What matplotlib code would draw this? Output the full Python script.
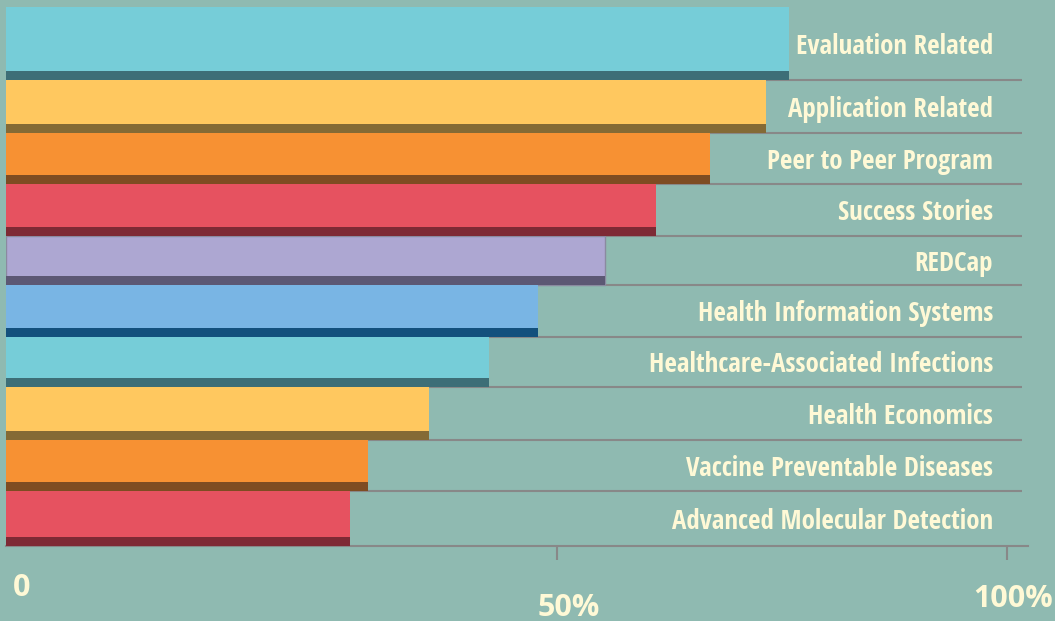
import matplotlib
matplotlib.use("Agg")
import matplotlib.pyplot as plt
from matplotlib import font_manager

categories = ["Evaluation Related", "Application Related", "Peer to Peer Program",
              "Success Stories", "REDCap", "Health Information Systems",
              "Healthcare-Associated Infections", "Health Economics",
              "Vaccine Preventable Diseases", "Advanced Molecular Detection"]
values = [78.2, 75.9, 70.3, 64.9, 59.8, 53.1, 48.3, 42.3, 36.2, 34.4]
tick_positions = [0, 55, 100]
tick_labels = ["0", "50%", "100%"]

main_colors = ["#76CDD8", "#FFC85F", "#F79133", "#E65260", "#ADA7D2",
               "#79B5E4", "#76CDD8", "#FFC85F", "#F79133", "#E65260"]
dark_colors = ["#3D6E77", "#846A35", "#7E4C22", "#7E2A35", "#5C5874",
               "#13507D", "#3D6E77", "#846A35", "#7E4C22", "#7E2A35"]
bg = "#8FBAB1"
cream = "#FFF9D6"
grid_c = "#888888"

avail = {f.name for f in font_manager.fontManager.ttflist}
label_fonts = [f for f in ["Open Sans Condensed", "Asap Condensed", "Barlow Semi Condensed"]
               if f in avail] + ["Roboto", "DejaVu Sans"]

W, H = 1055, 621
fig = plt.figure(figsize=(W / 100, H / 100), dpi=100, facecolor=bg)
ax = fig.add_axes([6 / W, (H - 546) / H, 1022 / W, 539 / H])
ax.set_facecolor(bg)

# row heights (layout, in units of ~52 px)
row_h = [h / 52 for h in [73, 53, 51, 52, 49, 52, 50, 53, 51, 55]]
tops = [sum(row_h[:i]) for i in range(len(row_h))]
total = sum(row_h)
strip = 0.17
xmax = 1022 / 10.01

for t, h in zip(tops[:-1], row_h[:-1]):
    ax.hlines(t + h, 0, 101.5, color=grid_c, lw=1.5, zorder=1)

for i, (cat, v) in enumerate(zip(categories, values)):
    t, h = tops[i], row_h[i]
    ec = "#8a8aa0" if cat == "REDCap" else "none"
    ax.barh(t, v, height=h, align="edge", color=main_colors[i], zorder=2,
            edgecolor=ec, linewidth=1)
    ax.barh(t + h - strip, v, height=strip, align="edge", color=dark_colors[i], zorder=3)
    ax.text(98.6, t + h / 2 + 0.05, cat, ha="right", va="center", color=cream,
            fontsize=19.4, fontweight="bold", family=label_fonts, zorder=4)

ax.set_xlim(0, xmax)
ax.set_ylim(total, 0)
for s in ["top", "right", "left"]:
    ax.spines[s].set_visible(False)
ax.spines["bottom"].set_color(grid_c)
ax.spines["bottom"].set_linewidth(1.5)
ax.spines["bottom"].set_zorder(1)
ax.set_yticks([])
ax.set_xticks(tick_positions[1:])
ax.set_xticklabels([])
ax.tick_params(axis="x", length=10, width=1.5, color=grid_c, direction="out")

offsets = [(16, -42), (12, -62), (6, -53)]
for val, lab, off in zip(tick_positions, tick_labels, offsets):
    ax.annotate(lab, xy=(val, 0), xycoords=("data", "axes fraction"),
                xytext=off, textcoords="offset pixels", ha="center", va="center",
                color=cream, fontsize=22, fontweight="bold", family="Open Sans",
                annotation_clip=False)

fig.savefig("out.png", dpi=100, facecolor=bg)
